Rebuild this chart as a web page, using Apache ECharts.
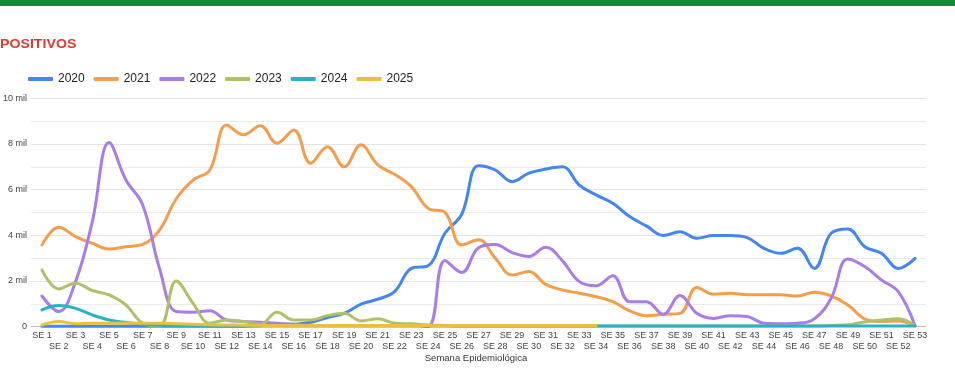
<!DOCTYPE html>
<html>
<head>
<meta charset="utf-8">
<script src="https://cdn.jsdelivr.net/npm/echarts@6/dist/echarts.min.js"></script>
<style>
html,body{margin:0;padding:0;background:#fff;}
#chart{width:955px;height:387px;}
</style>
</head>
<body>
<div id="chart"></div>
<script>
var weeks = ['SE 1','SE 2','SE 3','SE 4','SE 5','SE 6','SE 7','SE 8','SE 9','SE 10',
  'SE 11','SE 12','SE 13','SE 14','SE 15','SE 16','SE 17','SE 18','SE 19','SE 20',
  'SE 21','SE 22','SE 23','SE 24','SE 25','SE 26','SE 27','SE 28','SE 29','SE 30',
  'SE 31','SE 32','SE 33','SE 34','SE 35','SE 36','SE 37','SE 38','SE 39','SE 40',
  'SE 41','SE 42','SE 43','SE 44','SE 45','SE 46','SE 47','SE 48','SE 49','SE 50',
  'SE 51','SE 52','SE 53'];

var years = ['2020','2021','2022','2023','2024','2025'];

var s2020 = [10,10,10,10,10,10,10,10,10,10,
  10,20,20,40,70,100,190,400,580,980,
  1200,1530,2550,2670,4090,4920,7050,6860,6350,6720,
  6900,7000,6200,5770,5400,4820,4410,3990,4160,3870,
  3990,3990,3900,3430,3210,3430,2550,4090,4280,3500,
  3210,2550,2990];

var s2021 = [3580,4350,3940,3650,3400,3500,3600,4230,5600,6420,
  6860,8830,8400,8800,8030,8610,7150,7880,7000,7960,
  7080,6670,6130,5180,5000,3580,3800,3000,2260,2410,
  1850,1600,1460,1310,1090,690,480,540,580,1710,
  1420,1460,1390,1390,1390,1340,1500,1340,950,340,
  220,250,40];

var s2022 = [1340,660,1970,4600,8060,6420,5330,2550,660,630,
  690,290,220,190,150,100,60,50,50,50,
  50,50,70,0,2900,2370,3450,3600,3240,3070,
  3480,2880,1970,1790,2230,1090,1090,540,1360,580,
  360,480,440,150,130,150,340,1240,2960,2630,
  2040,1530,40];

var s2023 = [2480,1650,1900,1580,1390,950,150,20,2000,1020,
  150,290,220,100,630,290,290,480,580,250,
  340,150,120,70,50,30,30,30,30,30,
  30,30,30,30,30,30,30,30,30,30,
  30,30,30,30,30,30,30,50,80,200,
  290,340,40];

var s2024 = [730,920,800,510,290,180,100,60,50,40,
  30,30,30,30,30,30,30,30,30,30,
  30,30,30,30,30,30,30,30,30,30,
  30,30,30,30,30,30,30,30,30,30,
  30,30,30,30,30,30,30,30,30,30,
  30,30,30];

var s2025 = [70,220,130,150,150,150,150,150,130,100,
  80,70,60,50,50,50,50,50,50,50,
  50,50,50,50,50,50,50,50,50,50,
  50,50,50,50];

var colors = ['#4285f4','#f69d4c','#a97de9','#adc268','#26b3c9','#e8c13b'];
var seriesValues = [s2020,s2021,s2022,s2023,s2024,s2025];

function toPairs(arr){
  var out = [];
  for (var i = 0; i < arr.length; i++) out.push([i + 1, arr[i]]);
  return out;
}

var chart = echarts.init(document.getElementById('chart'), null, {renderer:'canvas'});

var series = years.map(function(y, i){
  return {
    name: y,
    type: 'line',
    xAxisIndex: 0,
    data: toPairs(seriesValues[i]),
    smooth: 0.4,
    showSymbol: false,
    symbol: 'none',
    lineStyle: {width: 3, color: colors[i], cap: 'round', join: 'round'},
    itemStyle: {color: colors[i]},
    z: 2 + i
  };
});

var oddValues = [], evenValues = [];
weeks.forEach(function(w, i){ if (i % 2 === 0) oddValues.push(i + 1); else evenValues.push(i + 1); });

var xMin = 1 - 11 / 16.875, xMax = 53 + 11 / 16.875;
function weekLabel(v){ return weeks[Math.round(v) - 1] || ''; }

chart.setOption({
  animation: false,
  textStyle: {fontFamily: 'Liberation Sans, Arial, sans-serif'},
  legend: {
    left: 28,
    top: 73,
    padding: 0,
    itemWidth: 25,
    itemHeight: 4,
    itemGap: 9,
    icon: 'roundRect',
    textStyle: {fontSize: 12, color: '#222'},
    data: years
  },
  graphic: [
    {type: 'rect', left: 0, top: 0, shape: {width: 955, height: 6}, style: {fill: '#13893a'}, silent: true},
    {type: 'text', x: 0, y: 44, scaleX: 1.09, style: {text: 'POSITIVOS', fill: '#e2392d', font: 'bold 13px Liberation Sans, Arial, sans-serif', align: 'left', verticalAlign: 'middle'}, silent: true},
    {type: 'text', x: 476, y: 358, style: {text: 'Semana Epidemiológica', fill: '#333', font: '9.5px Liberation Sans, Arial, sans-serif', align: 'center', verticalAlign: 'middle'}, silent: true}
  ],
  grid: {left: 27, right: 29, top: 98.3, bottom: 60.4},
  xAxis: [{
    type: 'value',
    min: xMin,
    max: xMax,
    axisLine: {show: true, lineStyle: {color: '#bdbdbd', width: 1}},
    axisTick: {show: false},
    splitLine: {show: false},
    axisLabel: {
      customValues: oddValues,
      showMinLabel: true,
      showMaxLabel: true,
      margin: 4,
      fontSize: 9,
      color: '#444',
      formatter: weekLabel
    }
  }, {
    type: 'value',
    position: 'bottom',
    min: xMin,
    max: xMax,
    axisLine: {show: false},
    axisTick: {show: false},
    splitLine: {show: false},
    axisLabel: {
      customValues: evenValues,
      showMinLabel: true,
      showMaxLabel: true,
      margin: 15,
      fontSize: 9,
      color: '#444',
      formatter: weekLabel
    }
  }],
  yAxis: {
    type: 'value',
    min: 0,
    max: 10000,
    interval: 2000,
    axisLine: {show: false},
    axisTick: {show: false},
    axisLabel: {
      margin: 4,
      fontSize: 9,
      color: '#444',
      formatter: function(v){ return v === 0 ? '0' : (v / 1000) + ' mil'; }
    },
    splitLine: {show: true, lineStyle: {color: '#e3e3e3', width: 1}},
    minorTick: {show: false, splitNumber: 2},
    minorSplitLine: {show: true, lineStyle: {color: '#ebebeb', width: 1}}
  },
  series: series
});
</script>
</body>
</html>
